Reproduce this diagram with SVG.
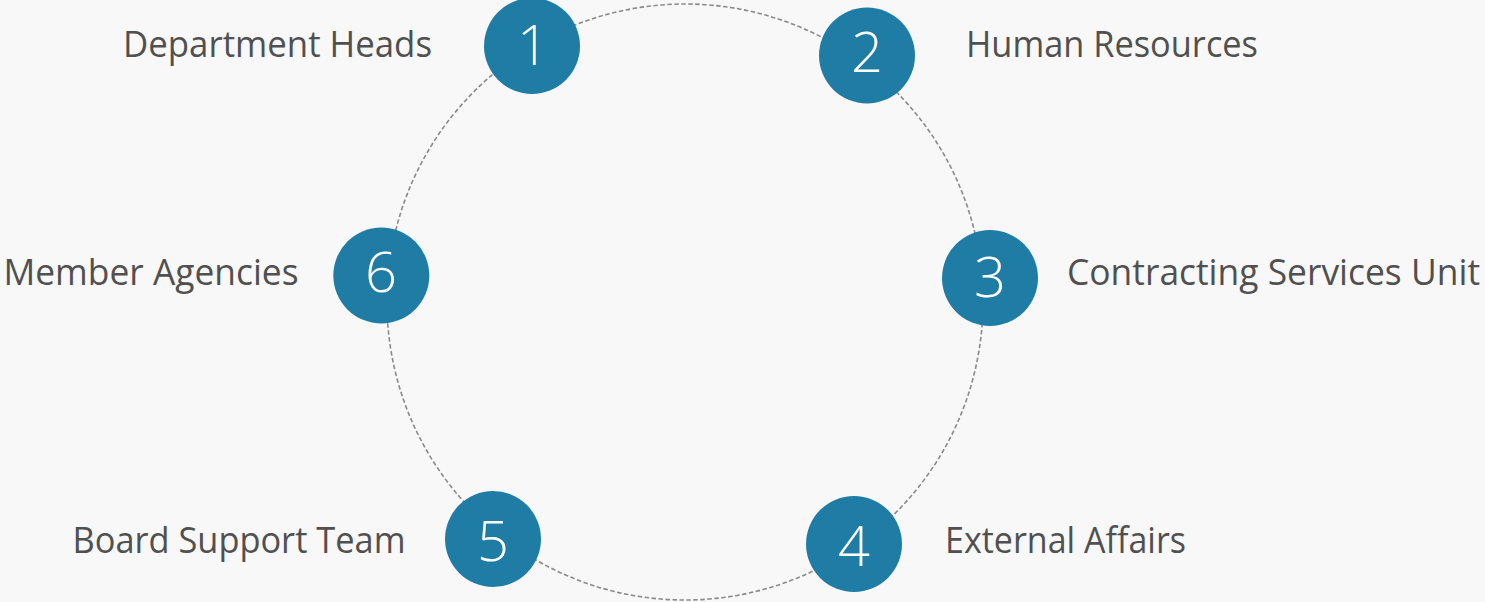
<svg xmlns="http://www.w3.org/2000/svg" width="1485" height="602" viewBox="0 0 1485 602">
<style>
.node circle{fill:#1F7DA5}
.num{font-family:"Open Sans","Noto Sans",sans-serif;font-weight:300;font-size:56px;fill:#ffffff;text-anchor:middle}
.lbl{font-family:"Open Sans","Noto Sans",sans-serif;font-size:36px;fill:#505050}
.ring{fill:none;stroke:#8a8a8a;stroke-width:1.6;stroke-dasharray:4.5 2.5}
</style>
<rect width="1485" height="602" fill="#F8F8F8"/>
<g id="connectors">
<circle class="ring" cx="685" cy="302" r="298"/>
</g>
<g id="node1" class="node"><circle cx="532" cy="46" r="48"/><text class="num" x="533" y="65">1</text><text class="lbl" x="123" y="57" textLength="309" lengthAdjust="spacingAndGlyphs">Department Heads</text></g>
<g id="node2" class="node"><circle cx="867" cy="55.5" r="48"/><text class="num" x="867" y="72">2</text><text class="lbl" x="966" y="57" textLength="292" lengthAdjust="spacingAndGlyphs">Human Resources</text></g>
<g id="node3" class="node"><circle cx="990" cy="278" r="48"/><text class="num" x="990" y="297">3</text><text class="lbl" x="1067" y="285" textLength="413" lengthAdjust="spacingAndGlyphs">Contracting Services Unit</text></g>
<g id="node4" class="node"><circle cx="854" cy="544" r="48"/><text class="num" x="854" y="566">4</text><text class="lbl" x="945" y="553" textLength="241" lengthAdjust="spacingAndGlyphs">External Affairs</text></g>
<g id="node5" class="node"><circle cx="493" cy="539" r="48"/><text class="num" x="493" y="561">5</text><text class="lbl" x="72.5" y="553" textLength="333" lengthAdjust="spacingAndGlyphs">Board Support Team</text></g>
<g id="node6" class="node"><circle cx="381.3" cy="275.5" r="48"/><text class="num" x="381" y="292">6</text><text class="lbl" x="3.5" y="285" textLength="295" lengthAdjust="spacingAndGlyphs">Member Agencies</text></g>
</svg>
